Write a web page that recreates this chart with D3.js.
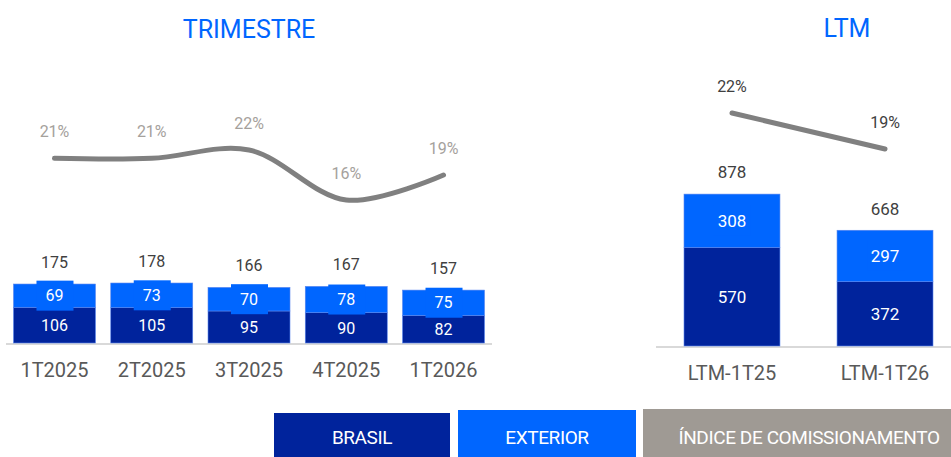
<!DOCTYPE html>
<html>
<head>
<meta charset="utf-8">
<script src="https://cdn.jsdelivr.net/npm/d3@7"></script>
<style>
  body { margin: 0; background: #fff; }
  text { font-family: Roboto, "Noto Sans", sans-serif; }
</style>
</head>
<body>
<script>
//quarterly data
var quarters = ["1T2025", "2T2025", "3T2025", "4T2025", "1T2026"];
var brasilQ = [106, 105, 95, 90, 82];
var exteriorQ = [69, 73, 70, 78, 75];
var totalQ = [175, 178, 166, 167, 157];
var indiceQ = [21, 21, 22, 16, 19];

//ltm data
var ltmCats = ["LTM-1T25", "LTM-1T26"];
var brasilL = [570, 372];
var exteriorL = [308, 297];
var totalL = [878, 668];
var indiceL = [22, 19];

var legendLabels = ["BRASIL", "EXTERIOR", "ÍNDICE DE COMISSIONAMENTO"];

var colBrasil = "#00239c",
    colExterior = "#0066ff",
    colIndice = "#9f9a94",
    colLine = "#808080";

var width = 951, height = 457;

var svg = d3.select("body")
    .append("svg")
    .attr("width", width)
    .attr("height", height);

//titles
svg.append("text")
    .attr("x", 249).attr("y", 38)
    .attr("text-anchor", "middle")
    .attr("font-size", 25)
    .attr("fill", colExterior)
    .text("TRIMESTRE");

svg.append("text")
    .attr("x", 847).attr("y", 37)
    .attr("text-anchor", "middle")
    .attr("font-size", 25)
    .attr("fill", colExterior)
    .text("LTM");

//draws one stacked panel with its rate line
function drawPanel(opt){
    var g = svg.append("g");

    var x = d3.scaleBand()
        .domain(opt.cats)
        .range(opt.xRange)
        .paddingInner(opt.pInner)
        .paddingOuter(opt.pOuter);

    var y = d3.scaleLinear()
        .domain(opt.yDomain)
        .range(opt.yRange);

    var r = d3.scaleLinear()
        .domain(opt.rDomain)
        .range(opt.rRange);

    var rows = opt.cats.map(function(c, i){
        return {cat: c, brasil: opt.brasil[i], exterior: opt.exterior[i], total: opt.total[i], rate: opt.rate[i]};
    });

    //axis line
    g.append("line")
        .attr("x1", opt.axisX[0]).attr("x2", opt.axisX[1])
        .attr("y1", y(0) + 1).attr("y2", y(0) + 1)
        .attr("stroke", "#d9d9d9")
        .attr("stroke-width", 2);

    var stack = d3.stack().keys(["brasil", "exterior"])(rows);
    var colors = [colBrasil, colExterior];

    stack.forEach(function(layer, k){
        g.selectAll(".seg" + k)
            .data(layer)
            .enter()
            .append("rect")
            .attr("x", function(d){ return x(d.data.cat); })
            .attr("y", function(d){ return y(d[1]); })
            .attr("width", x.bandwidth())
            .attr("height", function(d){ return y(d[0]) - y(d[1]); })
            .attr("fill", colors[k])
            .attr("stroke", "#5a86ee")
            .attr("stroke-width", 0.6);
    });

    //segment labels with their boxes
    stack.forEach(function(layer, k){
        var lab = g.selectAll(".lab" + k)
            .data(layer)
            .enter()
            .append("g")
            .attr("transform", function(d){
                return "translate(" + (x(d.data.cat) + x.bandwidth() / 2) + "," + ((y(d[0]) + y(d[1])) / 2) + ")";
            });
        if (k === 1) {
            lab.append("rect")
                .attr("x", -18).attr("y", -15)
                .attr("width", 37).attr("height", 30)
                .attr("fill", colors[k]);
        }
        lab.append("text")
            .attr("text-anchor", "middle")
            .attr("dy", "0.36em")
            .attr("font-size", opt.segFont)
            .attr("fill", "#fff")
            .text(function(d){ return d[1] - d[0]; });
    });

    //totals
    g.selectAll(".tot")
        .data(rows)
        .enter()
        .append("text")
        .attr("x", function(d){ return x(d.cat) + x.bandwidth() / 2; })
        .attr("y", function(d){ return y(d.total) - 22; })
        .attr("dy", "0.36em")
        .attr("text-anchor", "middle")
        .attr("font-size", opt.segFont)
        .attr("fill", "#404040")
        .text(function(d){ return d.total; });

    //category labels
    g.selectAll(".cat")
        .data(rows)
        .enter()
        .append("text")
        .attr("x", function(d){ return x(d.cat) + x.bandwidth() / 2; })
        .attr("y", y(0) + 27)
        .attr("dy", "0.36em")
        .attr("text-anchor", "middle")
        .attr("font-size", 20)
        .attr("fill", "#595959")
        .text(function(d){ return d.cat; });

    //rate line
    var line = d3.line()
        .x(function(d){ return x(d.cat) + x.bandwidth() / 2; })
        .y(function(d){ return r(d.rate); })
        .curve(d3.curveCatmullRom.alpha(0.5));

    g.append("path")
        .datum(rows)
        .attr("d", line)
        .attr("fill", "none")
        .attr("stroke", colLine)
        .attr("stroke-width", 5)
        .attr("stroke-linecap", "round");

    g.selectAll(".rate")
        .data(rows)
        .enter()
        .append("text")
        .attr("x", function(d){ return x(d.cat) + x.bandwidth() / 2; })
        .attr("y", function(d){ return r(d.rate) - 27; })
        .attr("dy", "0.36em")
        .attr("text-anchor", "middle")
        .attr("font-size", 16)
        .attr("fill", opt.rateColor)
        .text(function(d){ return d.rate + "%"; });
}

drawPanel({
    cats: quarters, brasil: brasilQ, exterior: exteriorQ, total: totalQ, rate: indiceQ,
    xRange: [6, 492], pInner: 0.157, pOuter: 0.077,
    yDomain: [0, 200], yRange: [343, 275.6],
    rDomain: [16, 22], rRange: [200, 150],
    axisX: [6, 492], segFont: 16, rateColor: "#a5a19c"
});

drawPanel({
    cats: ltmCats, brasil: brasilL, exterior: exteriorL, total: totalL, rate: indiceL,
    xRange: [670, 947], pInner: 0.373, pOuter: 0.0915,
    yDomain: [0, 1000], yRange: [346, 173],
    rDomain: [19, 22], rRange: [149, 113],
    axisX: [656, 951], segFont: 17, rateColor: "#404040"
});

//legend boxes
var legendBoxes = [
    {x0: 274, x1: 450, top: 413, fill: colBrasil},
    {x0: 458, x1: 636, top: 410, fill: colExterior},
    {x0: 643, x1: 951, top: 409, fill: colIndice}
];

var leg = svg.selectAll(".leg")
    .data(legendLabels)
    .enter()
    .append("g");

leg.append("rect")
    .attr("x", function(d, i){ return legendBoxes[i].x0; })
    .attr("y", function(d, i){ return legendBoxes[i].top; })
    .attr("width", function(d, i){ return legendBoxes[i].x1 - legendBoxes[i].x0; })
    .attr("height", function(d, i){ return height - legendBoxes[i].top; })
    .attr("fill", function(d, i){ return legendBoxes[i].fill; });

leg.append("text")
    .attr("x", function(d, i){ return (legendBoxes[i].x0 + legendBoxes[i].x1) / 2 + (i === 2 ? 12 : 0); })
    .attr("y", 437)
    .attr("dy", "0.36em")
    .attr("text-anchor", "middle")
    .attr("font-size", 19)
    .attr("letter-spacing", -0.4)
    .attr("fill", "#fff")
    .text(function(d){ return d; });
</script>
</body>
</html>
